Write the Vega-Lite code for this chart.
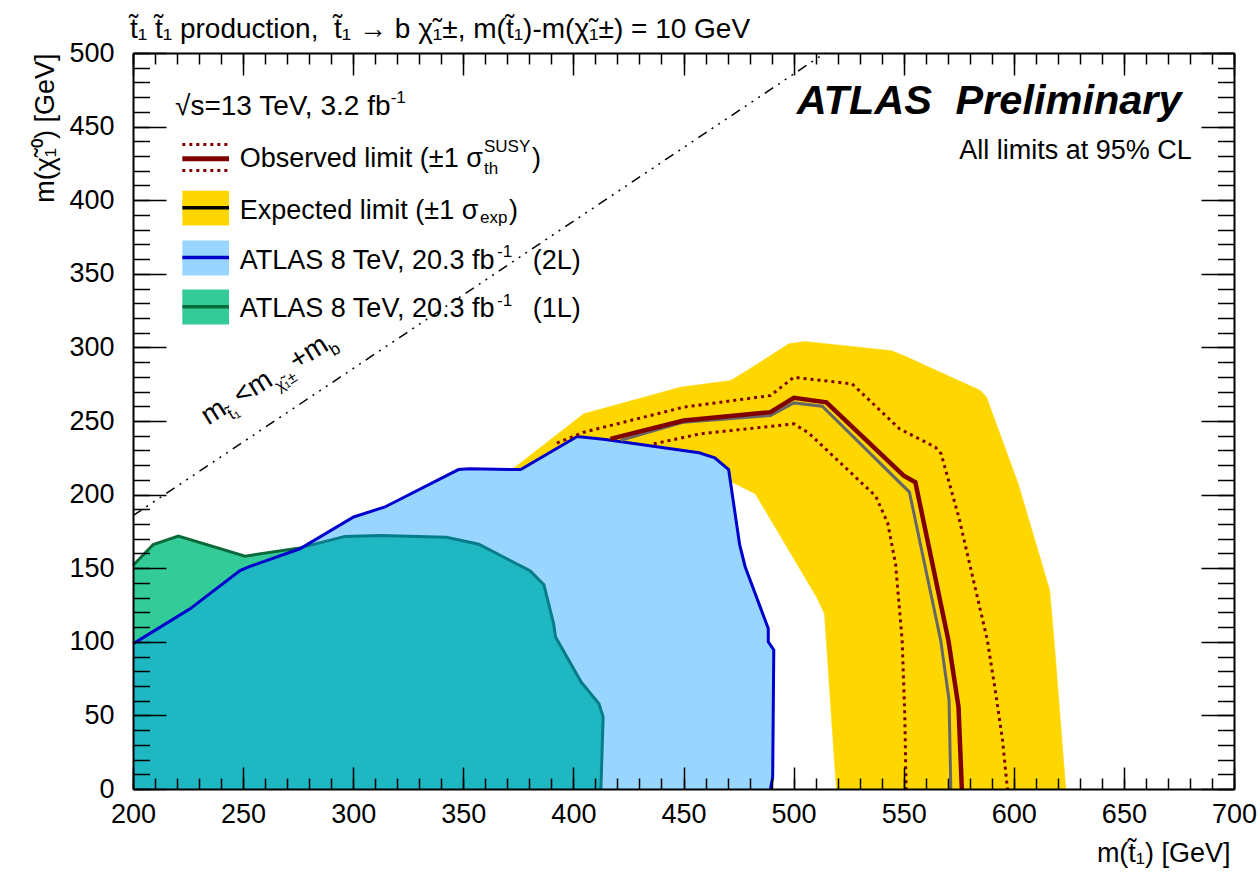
{
"$schema": "https://vega.github.io/schema/vega-lite/v6.json",
"width": 1101, "height": 736,
"autosize": {"type": "none"},
"padding": {"left": 133, "top": 53, "right": 26, "bottom": 85},
"background": "white",
"config": {"view": {"stroke": null}, "font": "Liberation Sans", "axis": {"grid": false}},
"datasets": {"c": [
{"s":"band","i":1,"x":373,"y":218},{"s":"band","i":2,"x":404.7,"y":254.9},{"s":"band","i":3,"x":448.6,"y":273},{"s":"band","i":4,"x":471.4,"y":277.5},{"s":"band","i":5,"x":478.9,"y":284.3},{"s":"band","i":6,"x":497.8,"y":302.4},{"s":"band","i":7,"x":505,"y":304},{"s":"band","i":8,"x":544.5,"y":297.8},{"s":"band","i":9,"x":549.9,"y":294.5},{"s":"band","i":10,"x":584.9,"y":270.7},{"s":"band","i":11,"x":587.6,"y":266.2},{"s":"band","i":12,"x":602,"y":207.4},{"s":"band","i":13,"x":616.3,"y":135},{"s":"band","i":14,"x":618.3,"y":101},{"s":"band","i":15,"x":623.6,"y":0},{"s":"band","i":16,"x":519.4,"y":0},{"s":"band","i":17,"x":514,"y":119.2},{"s":"band","i":18,"x":510.4,"y":130.5},{"s":"band","i":19,"x":482.6,"y":200.6},{"s":"band","i":20,"x":470,"y":210},{"s":"band","i":21,"x":440,"y":212},{"s":"band","i":22,"x":400,"y":212},{"s":"band","i":23,"x":377,"y":214},
{"s":"l2","i":1,"x":200,"y":98.6},{"s":"l2","i":2,"x":225.9,"y":122.4},{"s":"l2","i":3,"x":248.6,"y":148.4},{"s":"l2","i":4,"x":253.1,"y":151.2},{"s":"l2","i":5,"x":275.8,"y":163.2},{"s":"l2","i":6,"x":300.2,"y":184.8},{"s":"l2","i":7,"x":314.4,"y":191.6},{"s":"l2","i":8,"x":347.8,"y":217},{"s":"l2","i":9,"x":352.8,"y":217.5},{"s":"l2","i":10,"x":376.1,"y":217},{"s":"l2","i":11,"x":401.7,"y":239.5},{"s":"l2","i":12,"x":414.6,"y":237.5},{"s":"l2","i":13,"x":457.1,"y":228.4},{"s":"l2","i":14,"x":464.2,"y":225},{"s":"l2","i":15,"x":470.5,"y":217},{"s":"l2","i":16,"x":475.5,"y":166},{"s":"l2","i":17,"x":478,"y":151},{"s":"l2","i":18,"x":488.5,"y":109},{"s":"l2","i":19,"x":488.5,"y":100},{"s":"l2","i":20,"x":491,"y":94.5},{"s":"l2","i":21,"x":490.5,"y":8},{"s":"l2","i":22,"x":489.5,"y":0},{"s":"l2b","i":23,"x":200,"y":0},
{"s":"l1","i":1,"x":200,"y":151.8},{"s":"l1","i":2,"x":209.2,"y":166.1},{"s":"l1","i":3,"x":220.6,"y":171.8},{"s":"l1","i":4,"x":250.9,"y":158.2},{"s":"l1","i":5,"x":275.8,"y":163.8},{"s":"l1","i":6,"x":296.2,"y":171.6},{"s":"l1","i":7,"x":312.3,"y":172.2},{"s":"l1","i":8,"x":342.3,"y":171},{"s":"l1","i":9,"x":357,"y":166.3},{"s":"l1","i":10,"x":380.3,"y":148.3},{"s":"l1","i":11,"x":386.6,"y":138.8},{"s":"l1","i":12,"x":391,"y":112.4},{"s":"l1","i":13,"x":391.9,"y":103.3},{"s":"l1","i":14,"x":403.6,"y":72.5},{"s":"l1","i":15,"x":411.6,"y":58},{"s":"l1","i":16,"x":413.5,"y":49},{"s":"l1","i":17,"x":412.5,"y":0},{"s":"l1b","i":18,"x":200,"y":0},
{"s":"kin","i":1,"x":200,"y":185.7},{"s":"kin","i":2,"x":514.3,"y":500},
{"s":"exp","i":1,"x":421.4,"y":236.8},{"s":"exp","i":2,"x":450.1,"y":249.2},{"s":"exp","i":3,"x":489.5,"y":253.7},{"s":"exp","i":4,"x":500.1,"y":262.3},{"s":"exp","i":5,"x":513,"y":260},{"s":"exp","i":6,"x":552.6,"y":201.7},{"s":"exp","i":7,"x":566.8,"y":101},{"s":"exp","i":8,"x":570.6,"y":60.4},{"s":"exp","i":9,"x":571.4,"y":0},
{"s":"obs","i":1,"x":416.8,"y":237.9},{"s":"obs","i":2,"x":450.1,"y":250.3},{"s":"obs","i":3,"x":489.5,"y":256},{"s":"obs","i":4,"x":500.1,"y":265.7},{"s":"obs","i":5,"x":514.9,"y":262.7},{"s":"obs","i":6,"x":550,"y":212.9},{"s":"obs","i":7,"x":555.3,"y":208.4},{"s":"obs","i":8,"x":570.3,"y":101},{"s":"obs","i":9,"x":574.9,"y":55.6},{"s":"obs","i":10,"x":576.4,"y":0},
{"s":"up","i":1,"x":392.5,"y":235},{"s":"up","i":2,"x":404.7,"y":242.4},{"s":"up","i":3,"x":450.1,"y":259.4},{"s":"up","i":4,"x":489.5,"y":267.3},{"s":"up","i":5,"x":500.1,"y":279.7},{"s":"up","i":6,"x":526.6,"y":275.2},{"s":"up","i":7,"x":548.1,"y":244.7},{"s":"up","i":8,"x":564.3,"y":232.3},{"s":"up","i":9,"x":567,"y":227.7},{"s":"up","i":10,"x":575,"y":184.8},{"s":"up","i":11,"x":588,"y":101},{"s":"up","i":12,"x":591.8,"y":64.9},{"s":"up","i":13,"x":594.9,"y":33},{"s":"up","i":14,"x":597.1,"y":0},
{"s":"dn","i":1,"x":436.5,"y":234.5},{"s":"dn","i":2,"x":457.7,"y":241.3},{"s":"dn","i":3,"x":500.1,"y":248.1},{"s":"dn","i":4,"x":506.8,"y":241.9},{"s":"dn","i":5,"x":537.3,"y":198.9},{"s":"dn","i":6,"x":542.7,"y":180.8},{"s":"dn","i":7,"x":546.3,"y":153},{"s":"dn","i":8,"x":549.3,"y":101},{"s":"dn","i":9,"x":550.5,"y":50},{"s":"dn","i":10,"x":551.1,"y":0}
]},
"resolve": {"axis": {"x": "independent", "y": "independent"}},
"layer": [
{"data": {"name": "c"}, "transform": [{"filter": "datum.s === 'band'"}],
 "mark": {"type": "line", "interpolate": "linear-closed", "fill": "#FFD700", "stroke": "#FFD700", "strokeWidth": 0.5},
 "encoding": {
  "x": {"field": "x", "type": "quantitative", "scale": {"domain": [200, 700], "nice": false, "zero": false},
   "axis": {"orient": "bottom", "values": [200,250,300,350,400,450,500,550,600,650,700], "ticks": false, "domain": false, "grid": false, "labelFont": "Liberation Sans", "labelFontSize": 27, "labelColor": "#000", "labelPadding": 12, "labelFlush": false, "labelOverlap": false, "title": "m(t\u0303\u2081) [GeV]", "titleFont": "Liberation Sans", "titleFontSize": 27, "titleFontWeight": "normal", "titleColor": "#000", "titleAnchor": "end", "titleAlign": "right", "titleBaseline": "alphabetic", "titleX": 1097, "titleY": 72, "zindex": 1}},
  "y": {"field": "y", "type": "quantitative", "scale": {"domain": [0, 500], "nice": false, "zero": false},
   "axis": {"orient": "left", "values": [0,50,100,150,200,250,300,350,400,450,500], "ticks": false, "domain": false, "grid": false, "labelFont": "Liberation Sans", "labelFontSize": 27, "labelColor": "#000", "labelPadding": 19, "labelFlush": false, "labelOverlap": false, "title": "m(\u03c7\u0303\u2081\u2070) [GeV]", "titleFont": "Liberation Sans", "titleFontSize": 27, "titleFontWeight": "normal", "titleColor": "#000", "titleAngle": -90, "titleAnchor": "end", "titleAlign": "right", "titleBaseline": "alphabetic", "titleX": -80, "titleY": 0, "zindex": 1}},
  "order": {"field": "i", "type": "quantitative"}}},
{"data": {"name": "c"}, "transform": [{"filter": "datum.s === 'l2' || datum.s === 'l2b'"}],
 "mark": {"type": "line", "interpolate": "linear-closed", "fill": "#FFFFFF", "stroke": "#FFFFFF", "strokeWidth": 0},
 "encoding": {
  "x": {"field": "x", "type": "quantitative", "scale": {"domain": [200, 700], "nice": false, "zero": false},
   "axis": {"orient": "bottom", "values": [200,250,300,350,400,450,500,550,600,650,700], "labels": false, "title": null, "grid": false, "ticks": true, "tickSize": -22, "tickWidth": 1.5, "tickColor": "#000", "domain": true, "domainColor": "#000", "domainWidth": 2, "zindex": 1}},
  "y": {"field": "y", "type": "quantitative", "scale": {"domain": [0, 500], "nice": false, "zero": false},
   "axis": {"orient": "left", "values": [0,50,100,150,200,250,300,350,400,450,500], "labels": false, "title": null, "grid": false, "ticks": true, "tickSize": -33, "tickWidth": 1.5, "tickColor": "#000", "domain": true, "domainColor": "#000", "domainWidth": 2, "zindex": 1}},
  "order": {"field": "i", "type": "quantitative"}}},
{"data": {"name": "c"}, "transform": [{"filter": "datum.s === 'l1' || datum.s === 'l1b'"}],
 "mark": {"type": "line", "interpolate": "linear-closed", "fill": "#33CC99", "stroke": "#33CC99", "strokeWidth": 0},
 "encoding": {
  "x": {"field": "x", "type": "quantitative", "scale": {"domain": [200, 700], "nice": false, "zero": false},
   "axis": {"orient": "bottom", "values": [200,210,220,230,240,250,260,270,280,290,300,310,320,330,340,350,360,370,380,390,400,410,420,430,440,450,460,470,480,490,500,510,520,530,540,550,560,570,580,590,600,610,620,630,640,650,660,670,680,690,700], "labels": false, "title": null, "grid": false, "ticks": true, "tickSize": -11, "tickWidth": 1.5, "tickColor": "#000", "domain": false, "zindex": 1}},
  "y": {"field": "y", "type": "quantitative", "scale": {"domain": [0, 500], "nice": false, "zero": false},
   "axis": {"orient": "left", "values": [0,10,20,30,40,50,60,70,80,90,100,110,120,130,140,150,160,170,180,190,200,210,220,230,240,250,260,270,280,290,300,310,320,330,340,350,360,370,380,390,400,410,420,430,440,450,460,470,480,490,500], "labels": false, "title": null, "grid": false, "ticks": true, "tickSize": -16.5, "tickWidth": 1.5, "tickColor": "#000", "domain": false, "zindex": 1}},
  "order": {"field": "i", "type": "quantitative"}}},
{"data": {"name": "c"}, "transform": [{"filter": "datum.s === 'l1'"}],
 "mark": {"type": "line", "stroke": "#0A6A3A", "strokeWidth": 3},
 "encoding": {
  "x": {"field": "x", "type": "quantitative", "scale": {"domain": [200, 700], "nice": false, "zero": false},
   "axis": {"orient": "top", "values": [200,250,300,350,400,450,500,550,600,650,700], "labels": false, "title": null, "grid": false, "ticks": true, "tickSize": -22, "tickWidth": 1.5, "tickColor": "#000", "domain": true, "domainColor": "#000", "domainWidth": 2, "zindex": 1}},
  "y": {"field": "y", "type": "quantitative", "scale": {"domain": [0, 500], "nice": false, "zero": false},
   "axis": {"orient": "right", "values": [0,50,100,150,200,250,300,350,400,450,500], "labels": false, "title": null, "grid": false, "ticks": true, "tickSize": -33, "tickWidth": 1.5, "tickColor": "#000", "domain": true, "domainColor": "#000", "domainWidth": 2, "zindex": 1}},
  "order": {"field": "i", "type": "quantitative"}}},
{"data": {"name": "c"}, "transform": [{"filter": "datum.s === 'l2' || datum.s === 'l2b'"}],
 "mark": {"type": "line", "interpolate": "linear-closed", "fill": "#0099FF", "fillOpacity": 0.4, "stroke": "#0099FF", "strokeWidth": 0},
 "encoding": {
  "x": {"field": "x", "type": "quantitative", "scale": {"domain": [200, 700], "nice": false, "zero": false},
   "axis": {"orient": "top", "values": [200,210,220,230,240,250,260,270,280,290,300,310,320,330,340,350,360,370,380,390,400,410,420,430,440,450,460,470,480,490,500,510,520,530,540,550,560,570,580,590,600,610,620,630,640,650,660,670,680,690,700], "labels": false, "title": null, "grid": false, "ticks": true, "tickSize": -11, "tickWidth": 1.5, "tickColor": "#000", "domain": false, "zindex": 1}},
  "y": {"field": "y", "type": "quantitative", "scale": {"domain": [0, 500], "nice": false, "zero": false},
   "axis": {"orient": "right", "values": [0,10,20,30,40,50,60,70,80,90,100,110,120,130,140,150,160,170,180,190,200,210,220,230,240,250,260,270,280,290,300,310,320,330,340,350,360,370,380,390,400,410,420,430,440,450,460,470,480,490,500], "labels": false, "title": null, "grid": false, "ticks": true, "tickSize": -16.5, "tickWidth": 1.5, "tickColor": "#000", "domain": false, "zindex": 1}},
  "order": {"field": "i", "type": "quantitative"}}},
{"data": {"name": "c"}, "transform": [{"filter": "datum.s === 'l2'"}],
 "mark": {"type": "line", "stroke": "#0000CC", "strokeWidth": 3},
 "encoding": {
  "x": {"field": "x", "type": "quantitative", "scale": {"domain": [200, 700], "nice": false, "zero": false}, "axis": null},
  "y": {"field": "y", "type": "quantitative", "scale": {"domain": [0, 500], "nice": false, "zero": false}, "axis": null},
  "order": {"field": "i", "type": "quantitative"}}},
{"data": {"name": "c"}, "transform": [{"filter": "datum.s === 'kin'"}],
 "mark": {"type": "line", "stroke": "#000", "strokeWidth": 1.5, "strokeDash": [10, 6, 2, 6, 2, 6, 2, 6]},
 "encoding": {
  "x": {"field": "x", "type": "quantitative", "scale": {"domain": [200, 700], "nice": false, "zero": false}, "axis": null},
  "y": {"field": "y", "type": "quantitative", "scale": {"domain": [0, 500], "nice": false, "zero": false}, "axis": null},
  "order": {"field": "i", "type": "quantitative"}}},
{"data": {"name": "c"}, "transform": [{"filter": "datum.s === 'exp'"}],
 "mark": {"type": "line", "stroke": "#666666", "strokeWidth": 3},
 "encoding": {
  "x": {"field": "x", "type": "quantitative", "scale": {"domain": [200, 700], "nice": false, "zero": false}, "axis": null},
  "y": {"field": "y", "type": "quantitative", "scale": {"domain": [0, 500], "nice": false, "zero": false}, "axis": null},
  "order": {"field": "i", "type": "quantitative"}}},
{"data": {"name": "c"}, "transform": [{"filter": "datum.s === 'up' || datum.s === 'dn'"}],
 "mark": {"type": "line", "stroke": "#800000", "strokeWidth": 3, "strokeDash": [3, 4]},
 "encoding": {
  "x": {"field": "x", "type": "quantitative", "scale": {"domain": [200, 700], "nice": false, "zero": false}, "axis": null},
  "y": {"field": "y", "type": "quantitative", "scale": {"domain": [0, 500], "nice": false, "zero": false}, "axis": null},
  "detail": {"field": "s", "type": "nominal"},
  "order": {"field": "i", "type": "quantitative"}}},
{"data": {"name": "c"}, "transform": [{"filter": "datum.s === 'obs'"}],
 "mark": {"type": "line", "stroke": "#800000", "strokeWidth": 4.5},
 "encoding": {
  "x": {"field": "x", "type": "quantitative", "scale": {"domain": [200, 700], "nice": false, "zero": false}, "axis": null},
  "y": {"field": "y", "type": "quantitative", "scale": {"domain": [0, 500], "nice": false, "zero": false}, "axis": null},
  "order": {"field": "i", "type": "quantitative"}}},

{"data": {"values": [{}]}, "mark": {"type": "text", "text": "t\u0303\u2081 t\u0303\u2081 production,\u00a0 t\u0303\u2081 \u2192 b \u03c7\u0303\u2081\u00b1, m(t\u0303\u2081)-m(\u03c7\u0303\u2081\u00b1) = 10 GeV", "font": "Liberation Sans", "fontSize": 28, "align": "left", "baseline": "alphabetic", "color": "#000"},
 "encoding": {"x": {"datum": 198.6, "type": "quantitative", "axis": null}, "y": {"datum": 510.2, "type": "quantitative", "axis": null}}},

{"data": {"values": [{}]}, "mark": {"type": "rule", "color": "#800000", "strokeWidth": 3, "strokeDash": [3, 4]},
 "encoding": {"x": {"datum": 222.4, "type": "quantitative", "axis": null}, "x2": {"datum": 243.6}, "y": {"datum": 437.8, "type": "quantitative", "axis": null}}},
{"data": {"values": [{}]}, "mark": {"type": "rule", "color": "#800000", "strokeWidth": 3, "strokeDash": [3, 4]},
 "encoding": {"x": {"datum": 222.4, "type": "quantitative", "axis": null}, "x2": {"datum": 243.6}, "y": {"datum": 420.2, "type": "quantitative", "axis": null}}},
{"data": {"values": [{}]}, "mark": {"type": "rule", "color": "#800000", "strokeWidth": 5},
 "encoding": {"x": {"datum": 222.4, "type": "quantitative", "axis": null}, "x2": {"datum": 243.6}, "y": {"datum": 428.1, "type": "quantitative", "axis": null}}},
{"data": {"values": [{}]}, "mark": {"type": "rect", "color": "#FFD700"},
 "encoding": {"x": {"datum": 222.4, "type": "quantitative", "axis": null}, "x2": {"datum": 243.6}, "y": {"datum": 406.5, "type": "quantitative", "axis": null}, "y2": {"datum": 382.8}}},
{"data": {"values": [{}]}, "mark": {"type": "rule", "color": "#000000", "strokeWidth": 3.5},
 "encoding": {"x": {"datum": 222.4, "type": "quantitative", "axis": null}, "x2": {"datum": 243.6}, "y": {"datum": 394.8, "type": "quantitative", "axis": null}}},
{"data": {"values": [{}]}, "mark": {"type": "rect", "color": "#99D6FF"},
 "encoding": {"x": {"datum": 222.4, "type": "quantitative", "axis": null}, "x2": {"datum": 243.6}, "y": {"datum": 372.6, "type": "quantitative", "axis": null}, "y2": {"datum": 348.8}}},
{"data": {"values": [{}]}, "mark": {"type": "rule", "color": "#0000CC", "strokeWidth": 3.5},
 "encoding": {"x": {"datum": 222.4, "type": "quantitative", "axis": null}, "x2": {"datum": 243.6}, "y": {"datum": 361.1, "type": "quantitative", "axis": null}}},
{"data": {"values": [{}]}, "mark": {"type": "rect", "color": "#33CC99"},
 "encoding": {"x": {"datum": 222.4, "type": "quantitative", "axis": null}, "x2": {"datum": 243.6}, "y": {"datum": 339.3, "type": "quantitative", "axis": null}, "y2": {"datum": 315.6}}},
{"data": {"values": [{}]}, "mark": {"type": "rule", "color": "#0A6A3A", "strokeWidth": 3.5},
 "encoding": {"x": {"datum": 222.4, "type": "quantitative", "axis": null}, "x2": {"datum": 243.6}, "y": {"datum": 327.6, "type": "quantitative", "axis": null}}},

{"data": {"values": [{}]}, "mark": {"type": "text", "text": "\u221as=13 TeV, 3.2 fb", "font": "Liberation Sans", "fontSize": 28, "align": "left", "baseline": "alphabetic", "color": "#000"},
 "encoding": {"x": {"datum": 219.1, "type": "quantitative", "axis": null}, "y": {"datum": 458.2, "type": "quantitative", "axis": null}}},
{"data": {"values": [{}]}, "mark": {"type": "text", "text": "-1", "font": "Liberation Sans", "fontSize": 17, "align": "left", "baseline": "alphabetic", "color": "#000"},
 "encoding": {"x": {"datum": 317.0, "type": "quantitative", "axis": null}, "y": {"datum": 465.7, "type": "quantitative", "axis": null}}},

{"data": {"values": [{}]}, "mark": {"type": "text", "text": "Observed limit (\u00b11 \u03c3", "font": "Liberation Sans", "fontSize": 27, "align": "left", "baseline": "alphabetic", "color": "#000"},
 "encoding": {"x": {"datum": 248.5, "type": "quantitative", "axis": null}, "y": {"datum": 422.4, "type": "quantitative", "axis": null}}},
{"data": {"values": [{}]}, "mark": {"type": "text", "text": "th", "font": "Liberation Sans", "fontSize": 17, "align": "left", "baseline": "alphabetic", "color": "#000"},
 "encoding": {"x": {"datum": 359.4, "type": "quantitative", "axis": null}, "y": {"datum": 418.0, "type": "quantitative", "axis": null}}},
{"data": {"values": [{}]}, "mark": {"type": "text", "text": "SUSY", "font": "Liberation Sans", "fontSize": 17, "align": "left", "baseline": "alphabetic", "color": "#000"},
 "encoding": {"x": {"datum": 359.4, "type": "quantitative", "axis": null}, "y": {"datum": 432.6, "type": "quantitative", "axis": null}}},
{"data": {"values": [{}]}, "mark": {"type": "text", "text": ")", "font": "Liberation Sans", "fontSize": 27, "align": "left", "baseline": "alphabetic", "color": "#000"},
 "encoding": {"x": {"datum": 381.2, "type": "quantitative", "axis": null}, "y": {"datum": 422.4, "type": "quantitative", "axis": null}}},

{"data": {"values": [{}]}, "mark": {"type": "text", "text": "Expected limit (\u00b11 \u03c3", "font": "Liberation Sans", "fontSize": 27, "align": "left", "baseline": "alphabetic", "color": "#000"},
 "encoding": {"x": {"datum": 248.5, "type": "quantitative", "axis": null}, "y": {"datum": 387.4, "type": "quantitative", "axis": null}}},
{"data": {"values": [{}]}, "mark": {"type": "text", "text": "exp", "font": "Liberation Sans", "fontSize": 17, "align": "left", "baseline": "alphabetic", "color": "#000"},
 "encoding": {"x": {"datum": 357.6, "type": "quantitative", "axis": null}, "y": {"datum": 384.2, "type": "quantitative", "axis": null}}},
{"data": {"values": [{}]}, "mark": {"type": "text", "text": ")", "font": "Liberation Sans", "fontSize": 27, "align": "left", "baseline": "alphabetic", "color": "#000"},
 "encoding": {"x": {"datum": 370.8, "type": "quantitative", "axis": null}, "y": {"datum": 387.4, "type": "quantitative", "axis": null}}},

{"data": {"values": [{}]}, "mark": {"type": "text", "text": "ATLAS 8 TeV, 20.3 fb", "font": "Liberation Sans", "fontSize": 27, "align": "left", "baseline": "alphabetic", "color": "#000"},
 "encoding": {"x": {"datum": 248.5, "type": "quantitative", "axis": null}, "y": {"datum": 353.4, "type": "quantitative", "axis": null}}},
{"data": {"values": [{}]}, "mark": {"type": "text", "text": "-1", "font": "Liberation Sans", "fontSize": 17, "align": "left", "baseline": "alphabetic", "color": "#000"},
 "encoding": {"x": {"datum": 365.3, "type": "quantitative", "axis": null}, "y": {"datum": 361.3, "type": "quantitative", "axis": null}}},
{"data": {"values": [{}]}, "mark": {"type": "text", "text": "(2L)", "font": "Liberation Sans", "fontSize": 27, "align": "left", "baseline": "alphabetic", "color": "#000"},
 "encoding": {"x": {"datum": 381.5, "type": "quantitative", "axis": null}, "y": {"datum": 353.4, "type": "quantitative", "axis": null}}},

{"data": {"values": [{}]}, "mark": {"type": "text", "text": "ATLAS 8 TeV, 20.3 fb", "font": "Liberation Sans", "fontSize": 27, "align": "left", "baseline": "alphabetic", "color": "#000"},
 "encoding": {"x": {"datum": 248.5, "type": "quantitative", "axis": null}, "y": {"datum": 320.5, "type": "quantitative", "axis": null}}},
{"data": {"values": [{}]}, "mark": {"type": "text", "text": "-1", "font": "Liberation Sans", "fontSize": 17, "align": "left", "baseline": "alphabetic", "color": "#000"},
 "encoding": {"x": {"datum": 365.3, "type": "quantitative", "axis": null}, "y": {"datum": 328.4, "type": "quantitative", "axis": null}}},
{"data": {"values": [{}]}, "mark": {"type": "text", "text": "(1L)", "font": "Liberation Sans", "fontSize": 27, "align": "left", "baseline": "alphabetic", "color": "#000"},
 "encoding": {"x": {"datum": 381.5, "type": "quantitative", "axis": null}, "y": {"datum": 320.5, "type": "quantitative", "axis": null}}},

{"data": {"values": [{}]}, "mark": {"type": "text", "text": "ATLAS", "font": "Liberation Sans", "fontSize": 41.5, "fontWeight": "bold", "fontStyle": "italic", "align": "left", "baseline": "alphabetic", "color": "#000"},
 "encoding": {"x": {"datum": 501.4, "type": "quantitative", "axis": null}, "y": {"datum": 458.7, "type": "quantitative", "axis": null}}},
{"data": {"values": [{}]}, "mark": {"type": "text", "text": "Preliminary", "font": "Liberation Sans", "fontSize": 41.5, "fontWeight": "bold", "fontStyle": "italic", "align": "right", "baseline": "alphabetic", "color": "#000"},
 "encoding": {"x": {"datum": 676.2, "type": "quantitative", "axis": null}, "y": {"datum": 458.7, "type": "quantitative", "axis": null}}},
{"data": {"values": [{}]}, "mark": {"type": "text", "text": "All limits at 95% CL", "font": "Liberation Sans", "fontSize": 27, "align": "right", "baseline": "alphabetic", "color": "#000"},
 "encoding": {"x": {"datum": 680.8, "type": "quantitative", "axis": null}, "y": {"datum": 428.1, "type": "quantitative", "axis": null}}},

{"data": {"values": [{}]}, "mark": {"type": "text", "text": "m", "font": "Liberation Sans", "fontSize": 28, "align": "left", "baseline": "alphabetic", "angle": 328, "dx": 0, "dy": 0, "color": "#000"},
 "encoding": {"x": {"datum": 234.2, "type": "quantitative", "axis": null}, "y": {"datum": 246.9, "type": "quantitative", "axis": null}}},
{"data": {"values": [{}]}, "mark": {"type": "text", "text": "t\u0303\u2081", "font": "Liberation Sans", "fontSize": 17, "align": "left", "baseline": "alphabetic", "angle": 328, "dx": 23, "dy": 8, "color": "#000"},
 "encoding": {"x": {"datum": 234.2, "type": "quantitative", "axis": null}, "y": {"datum": 246.9, "type": "quantitative", "axis": null}}},
{"data": {"values": [{}]}, "mark": {"type": "text", "text": "<m", "font": "Liberation Sans", "fontSize": 28, "align": "left", "baseline": "alphabetic", "angle": 328, "dx": 38, "dy": 0, "color": "#000"},
 "encoding": {"x": {"datum": 234.2, "type": "quantitative", "axis": null}, "y": {"datum": 246.9, "type": "quantitative", "axis": null}}},
{"data": {"values": [{}]}, "mark": {"type": "text", "text": "\u03c7\u0303\u2081\u00b1", "font": "Liberation Sans", "fontSize": 16, "align": "left", "baseline": "alphabetic", "angle": 328, "dx": 78, "dy": 9, "color": "#000"},
 "encoding": {"x": {"datum": 234.2, "type": "quantitative", "axis": null}, "y": {"datum": 246.9, "type": "quantitative", "axis": null}}},
{"data": {"values": [{}]}, "mark": {"type": "text", "text": "+m", "font": "Liberation Sans", "fontSize": 28, "align": "left", "baseline": "alphabetic", "angle": 328, "dx": 104, "dy": 0, "color": "#000"},
 "encoding": {"x": {"datum": 234.2, "type": "quantitative", "axis": null}, "y": {"datum": 246.9, "type": "quantitative", "axis": null}}},
{"data": {"values": [{}]}, "mark": {"type": "text", "text": "b", "font": "Liberation Sans", "fontSize": 17, "align": "left", "baseline": "alphabetic", "angle": 328, "dx": 143, "dy": 8, "color": "#000"},
 "encoding": {"x": {"datum": 234.2, "type": "quantitative", "axis": null}, "y": {"datum": 246.9, "type": "quantitative", "axis": null}}}
]
}
